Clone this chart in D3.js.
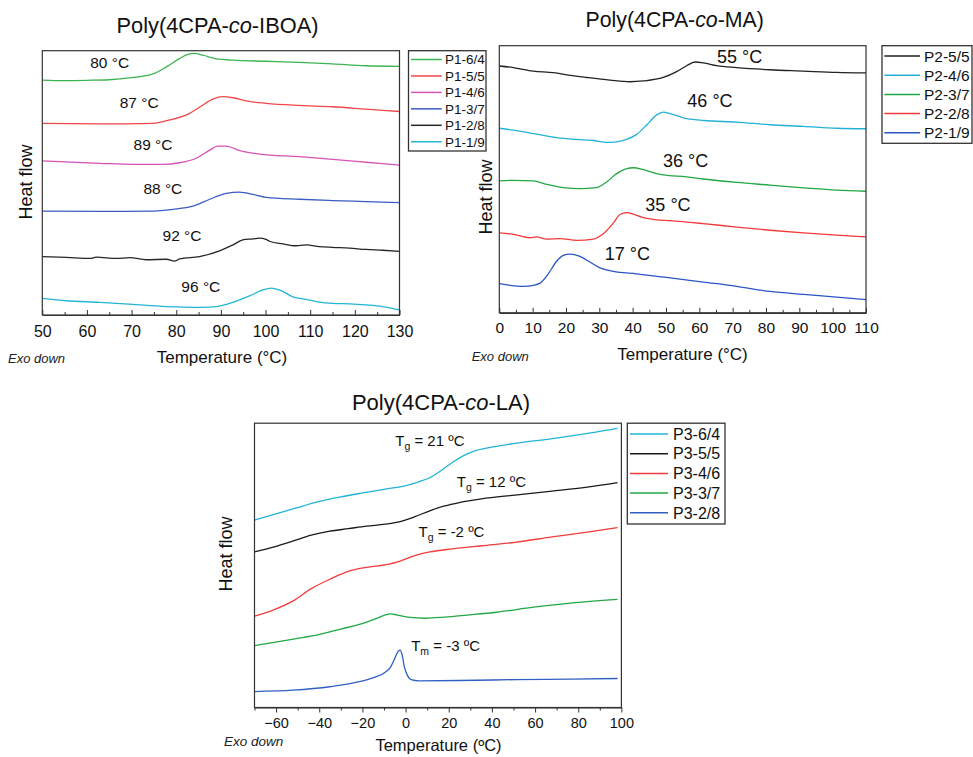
<!DOCTYPE html>
<html>
<head>
<meta charset="utf-8">
<script src="https://cdn.jsdelivr.net/npm/d3@7"></script>
<style>
  html, body { margin: 0; padding: 0; background: #fff; }
  svg { display: block; font-family: "Liberation Sans", Arial, sans-serif; }
</style>
</head>
<body>
<svg id="chart" width="973" height="757"></svg>
<script>
// ---------- Poly(4CPA-co-IBOA) DSC traces: [temperature °C, heat flow (a.u.)] ----------
const ibNames = ["P1-6/4", "P1-5/5", "P1-4/6", "P1-3/7", "P1-2/8", "P1-1/9"];
const ib64 = [[50,8.89],[55,8.87],[60,8.88],[65,8.90],[70,8.98],[74.8,9.12],[77.8,9.39],[80.8,9.71],[82.6,9.86],[84.1,9.90],[86,9.83],[89,9.69],[92.7,9.64],[100,9.60],[107.6,9.56],[115,9.50],[122.5,9.43],[130,9.41]];
const ib55 = [[50,7.25],[62.9,7.23],[74.8,7.25],[78.5,7.38],[82.3,7.57],[85.2,7.86],[88.2,8.17],[90.4,8.26],[92.7,8.22],[95.7,8.10],[100.1,8.01],[107.6,7.93],[115,7.88],[122.5,7.79],[130,7.70]];
const ib46 = [[50,5.83],[62.9,5.74],[70.3,5.70],[77,5.70],[80.8,5.76],[84.5,5.93],[87.5,6.24],[89.3,6.39],[91.2,6.39],[94.2,6.22],[98.6,6.09],[107.6,5.99],[115,5.89],[122.5,5.78],[130,5.67]];
const ib37 = [[50,3.93],[62.9,3.92],[74.1,3.93],[79.3,4.00],[83.7,4.12],[87.5,4.38],[91.2,4.60],[94.2,4.65],[97.2,4.56],[100.1,4.45],[107.6,4.38],[115,4.33],[122.5,4.29],[130,4.25]];
const ib28 = [[50,2.21],[55.4,2.18],[60.7,2.14],[62.1,2.19],[66.6,2.14],[69.6,2.17],[73.3,2.09],[77.8,2.11],[79.6,2.04],[80.8,2.12],[85.2,2.21],[89.7,2.43],[92.7,2.65],[94.9,2.84],[97.2,2.88],[98.6,2.91],[100.1,2.86],[100.9,2.79],[103.9,2.69],[106.8,2.62],[109.1,2.65],[112,2.59],[115,2.56],[118.8,2.53],[122.5,2.48],[126.2,2.45],[130,2.41]];
const ib19 = [[50,0.63],[55.4,0.54],[62.9,0.48],[70.3,0.40],[77.8,0.32],[85.2,0.29],[89,0.32],[92.7,0.48],[96.4,0.72],[99.4,0.95],[101.3,1.02],[103.1,0.95],[106.1,0.69],[109.1,0.59],[112,0.49],[115,0.44],[118.8,0.42],[122.5,0.38],[126.2,0.32],[130,0.19]];
// Tg annotations: [text, temperature, heat flow] (text centred on that point)
const ibLabels = [["80 °C",65.1,9.35],["87 °C",71.7,7.84],["89 °C",74.8,6.24],["88 °C",77.0,4.58],["92 °C",81.3,2.80],["96 °C",85.5,0.88]];
const ibTicks = [50,60,70,80,90,100,110,120,130];

// ---------- Poly(4CPA-co-MA) ----------
const maNames = ["P2-5/5", "P2-4/6", "P2-3/7", "P2-2/8", "P2-1/9"];
const ma55 = [[0,9.24],[4.2,9.18],[10.2,9.05],[16.2,8.99],[21.2,8.89],[26.2,8.81],[33.2,8.71],[39.2,8.65],[43.2,8.68],[49.2,8.81],[53.2,9.03],[56.2,9.25],[58.7,9.39],[61.2,9.36],[65.2,9.25],[71.2,9.18],[81.2,9.10],[91.2,9.05],[101.2,9.00],[110,8.98]];
const ma46 = [[0,6.91],[4.2,6.84],[11.2,6.69],[17.2,6.56],[23.2,6.49],[28.2,6.45],[32.2,6.38],[35.2,6.40],[38.2,6.49],[41.2,6.68],[44.2,7.03],[47.2,7.41],[49.2,7.51],[51.2,7.46],[55.2,7.30],[61.2,7.20],[71.2,7.14],[81.2,7.04],[91.2,6.98],[101.2,6.91],[110,6.89]];
const ma37 = [[0,4.94],[4.2,4.96],[10.2,4.94],[14.2,4.81],[19.2,4.69],[24.2,4.65],[29.2,4.69],[32.2,4.90],[35.2,5.21],[38.2,5.40],[40.2,5.43],[43.2,5.36],[47.2,5.21],[49.2,5.16],[56.2,5.09],[61.2,5.01],[71.2,4.88],[81.2,4.78],[91.2,4.68],[101.2,4.59],[110,4.55]];
const ma28 = [[0,2.99],[4.2,2.94],[9.2,2.81],[11.2,2.84],[14.2,2.76],[18.2,2.78],[23.2,2.71],[28.2,2.76],[31.2,2.96],[34.2,3.36],[36.2,3.68],[38.2,3.75],[40.2,3.69],[43.2,3.56],[47.2,3.48],[51.2,3.45],[61.2,3.34],[71.2,3.21],[81.2,3.09],[91.2,2.99],[101.2,2.91],[110,2.84]];
const ma19 = [[0,1.09],[3.2,1.03],[7.2,0.99],[10.2,1.03],[12.2,1.11],[14.7,1.46],[17.2,1.93],[19.2,2.15],[21.2,2.20],[24.2,2.11],[27.2,1.90],[30.2,1.68],[34.2,1.55],[41.2,1.46],[51.2,1.31],[61.2,1.15],[71.2,0.99],[81.2,0.80],[91.2,0.69],[101.2,0.59],[110,0.49]];
const maLabels = [["55 °C",72.1,9.36],["46 °C",63.2,7.71],["36 °C",55.9,5.46],["35 °C",50.6,3.81],["17 °C",38.4,1.99]];
const maTicks = [0,10,20,30,40,50,60,70,80,90,100,110];

// ---------- Poly(4CPA-co-LA) ----------
const laNames = ["P3-6/4", "P3-5/5", "P3-4/6", "P3-3/7", "P3-2/8"];
const la64 = [[-70,6.59],[-60.9,6.79],[-50.6,7.02],[-40.3,7.24],[-30,7.41],[-19.7,7.55],[-9.4,7.68],[-0.8,7.79],[6.1,7.94],[11.2,8.08],[16.4,8.33],[21.5,8.61],[26.7,8.85],[31.8,9.02],[38.7,9.14],[50.7,9.29],[67.9,9.46],[85,9.65],[98.2,9.82]];
const la55 = [[-70,5.47],[-60.9,5.65],[-52.3,5.85],[-43.7,6.06],[-35.1,6.20],[-26.5,6.29],[-18,6.38],[-9.4,6.45],[-2.5,6.54],[4.3,6.71],[11.2,6.92],[18.1,7.09],[24.9,7.21],[35.2,7.34],[50.7,7.47],[67.9,7.61],[85,7.76],[98.2,7.91]];
const la46 = [[-70,3.21],[-60.9,3.44],[-52.3,3.74],[-43.7,4.18],[-35.1,4.51],[-26.5,4.79],[-19.7,4.91],[-12.8,4.98],[-7.7,5.04],[-2.5,5.15],[4.3,5.34],[11.2,5.47],[21.5,5.58],[35.2,5.69],[50.7,5.81],[67.9,6.00],[85,6.18],[98.2,6.33]];
const la37 = [[-70,2.18],[-60.9,2.29],[-50.6,2.42],[-40.3,2.56],[-30,2.76],[-19.7,2.96],[-12.8,3.15],[-9.4,3.26],[-6.8,3.29],[-4.2,3.26],[0.9,3.18],[9.5,3.14],[18.1,3.18],[28.4,3.25],[42.1,3.35],[59.3,3.53],[76.4,3.67],[98.2,3.80]];
const la28 = [[-70,0.56],[-52.3,0.61],[-35.1,0.73],[-23.1,0.88],[-14.5,1.06],[-9.4,1.24],[-6.8,1.44],[-5.1,1.71],[-3.4,1.98],[-2.5,2.02],[-1.7,1.88],[-0.5,1.41],[0.9,1.12],[2.6,0.98],[6.1,0.94],[24.9,0.95],[50.7,0.98],[76.4,1.00],[98.2,1.02]];
// [symbol, subscript, rest of text, temperature, heat flow] (text starts at that point)
const laLabels = [["T","g"," = 21 ºC",-4.8,9.20],["T","g"," = 12 ºC",23.7,7.76],["T","g"," = -2 ºC",6.0,5.98],["T","m"," = -3 ºC",2.6,1.98]];
const laTicks = [-60,-40,-20,0,20,40,60,80,100];

// ---------- drawing ----------
const svg = d3.select("#chart");

function drawPanel(cfg) {
  const g = svg.append("g");
  const x = d3.scaleLinear().domain(cfg.xDomain).range([cfg.left, cfg.right]);
  const y = d3.scaleLinear().domain([0, 10]).range([cfg.bottom, cfg.top]);
  const line = d3.line().x(d => x(d[0])).y(d => y(d[1])).curve(d3.curveMonotoneX);

  // traces
  cfg.series.forEach((s, i) => {
    g.append("path").attr("d", line(s)).attr("fill", "none")
      .attr("stroke", cfg.colors[i]).attr("stroke-width", 1.3)
      .attr("stroke-linejoin", "round");
  });

  // frame
  g.append("rect").attr("x", cfg.left).attr("y", cfg.top)
    .attr("width", cfg.right - cfg.left).attr("height", cfg.bottom - cfg.top)
    .attr("fill", "none").attr("stroke", "#333").attr("stroke-width", 1.2);

  // bottom axis: major ticks with labels, then minor ticks
  const dir = cfg.ticksIn ? -1 : 1;
  const major = d3.axisBottom(x).tickValues(cfg.ticks).tickSizeInner(5 * dir).tickSizeOuter(0)
    .tickPadding(cfg.tickPad).tickFormat(d3.format("d"));
  const ax = g.append("g").attr("transform", `translate(0,${cfg.bottom})`).call(major);
  ax.select(".domain").attr("stroke", "#333").attr("stroke-width", 1.2);
  ax.selectAll(".tick line").attr("stroke", "#333").attr("stroke-width", 1);
  ax.selectAll(".tick text").attr("font-size", cfg.tickFont).attr("fill", "#111")
    .attr("font-family", "Liberation Sans, Arial, sans-serif");
  const minor = d3.axisBottom(x).tickValues(cfg.minorTicks).tickSizeInner(3 * dir).tickSizeOuter(0).tickFormat("");
  const mx = g.append("g").attr("transform", `translate(0,${cfg.bottom})`).call(minor);
  mx.select(".domain").remove();
  mx.selectAll(".tick line").attr("stroke", "#333").attr("stroke-width", 1);

  // title
  const t = g.append("text").attr("x", cfg.titleX).attr("y", cfg.titleY)
    .attr("text-anchor", "middle").attr("font-size", cfg.titleFont).attr("fill", "#111");
  t.append("tspan").text("Poly(4CPA-");
  t.append("tspan").attr("font-style", "italic").text("co");
  t.append("tspan").text("-" + cfg.comonomer + ")");

  // axis titles
  g.append("text").attr("x", cfg.xTitleX).attr("y", cfg.xTitleY).attr("text-anchor", "middle")
    .attr("font-size", cfg.xTitleFont).attr("fill", "#111").text(cfg.xTitle);
  g.append("text").attr("transform", `translate(${cfg.yTitleX},${cfg.yTitleY}) rotate(-90)`)
    .attr("text-anchor", "middle").attr("font-size", 18).attr("fill", "#111").text("Heat flow");
  g.append("text").attr("x", cfg.exoX).attr("y", cfg.exoY).attr("font-style", "italic")
    .attr("font-size", cfg.exoFont).attr("fill", "#222").text("Exo down");

  // legend
  const lg = cfg.legend;
  g.append("rect").attr("x", lg.x0).attr("y", lg.y0).attr("width", lg.x1 - lg.x0).attr("height", lg.y1 - lg.y0)
    .attr("fill", "#fff").attr("stroke", "#333").attr("stroke-width", 1.3);
  cfg.names.forEach((n, i) => {
    const yy = lg.first + i * lg.step;
    g.append("line").attr("x1", lg.lx0).attr("x2", lg.lx1).attr("y1", yy).attr("y2", yy)
      .attr("stroke", cfg.colors[i]).attr("stroke-width", 1.5);
    g.append("text").attr("x", lg.tx).attr("y", yy).attr("dy", "0.36em")
      .attr("font-size", lg.font).attr("fill", "#111").text(n);
  });

  return { g, x, y };
}

// Panel 1 — IBOA
const p1 = drawPanel({
  left: 42.3, right: 399.5, top: 50.7, bottom: 315,
  xDomain: [50, 130], ticks: ibTicks, minorTicks: d3.range(55, 130, 10),
  ticksIn: true, tickPad: 10.3, tickFont: 16,
  series: [ib64, ib55, ib46, ib37, ib28, ib19], names: ibNames,
  colors: ["#3cb451", "#f0474a", "#d653b6", "#3b5cc2", "#262626", "#22b6d4"],
  comonomer: "IBOA", titleX: 217.5, titleY: 33.3, titleFont: 21.8,
  xTitle: "Temperature (°C)", xTitleX: 222, xTitleY: 363, xTitleFont: 17,
  yTitleX: 32, yTitleY: 182, exoX: 8, exoY: 363, exoFont: 13,
  legend: { x0: 408.5, x1: 486, y0: 50.7, y1: 151, lx0: 411, lx1: 441.7, tx: 445, first: 59.5, step: 16.45, font: 13.5 }
});
p1.g.selectAll(null).data(ibLabels).enter().append("text")
  .attr("x", d => p1.x(d[1])).attr("y", d => p1.y(d[2]))
  .attr("text-anchor", "middle").attr("font-size", 15.5).attr("fill", "#111").text(d => d[0]);

// Panel 2 — MA
const p2 = drawPanel({
  left: 499.3, right: 866, top: 45.7, bottom: 312.8,
  xDomain: [0, 110], ticks: maTicks, minorTicks: d3.range(5, 110, 10),
  ticksIn: true, tickPad: 9.3, tickFont: 15.5,
  series: [ma55, ma46, ma37, ma28, ma19], names: maNames,
  colors: ["#222222", "#22b2d8", "#22a844", "#f23a3a", "#2a55c4"],
  comonomer: "MA", titleX: 674.7, titleY: 27.3, titleFont: 21.3,
  xTitle: "Temperature (°C)", xTitleX: 682.5, xTitleY: 360, xTitleFont: 17,
  yTitleX: 491.7, yTitleY: 197, exoX: 471.7, exoY: 361, exoFont: 13,
  legend: { x0: 882, x1: 972, y0: 45.7, y1: 143.3, lx0: 884.3, lx1: 920, tx: 924, first: 56, step: 19.2, font: 15.5 }
});
p2.g.selectAll(null).data(maLabels).enter().append("text")
  .attr("x", d => p2.x(d[1])).attr("y", d => p2.y(d[2]))
  .attr("text-anchor", "middle").attr("font-size", 18).attr("fill", "#111").text(d => d[0]);

// Panel 3 — LA
const p3 = drawPanel({
  left: 254.5, right: 621.4, top: 423.2, bottom: 707.5,
  xDomain: [-70, 100], ticks: laTicks, minorTicks: d3.range(-70, 100, 20),
  ticksIn: false, tickPad: 5.3, tickFont: 14.5,
  series: [la64, la55, la46, la37, la28], names: laNames,
  colors: ["#22b4d8", "#1a1a1a", "#f23c3c", "#22a844", "#3160c4"],
  comonomer: "LA", titleX: 441, titleY: 410, titleFont: 22,
  xTitle: "Temperature (ºC)", xTitleX: 438.5, xTitleY: 751, xTitleFont: 16.5,
  yTitleX: 231.5, yTitleY: 554, exoX: 224, exoY: 746, exoFont: 13.5,
  legend: { x0: 627.3, x1: 725, y0: 423.2, y1: 524, lx0: 630, lx1: 668, tx: 673, first: 434, step: 19.7, font: 16 }
});
const lab3 = p3.g.selectAll(null).data(laLabels).enter().append("text")
  .attr("x", d => p3.x(d[3])).attr("y", d => p3.y(d[4]))
  .attr("font-size", 15).attr("fill", "#111");
lab3.append("tspan").text(d => d[0]);
lab3.append("tspan").attr("font-size", 10.5).attr("dy", 4).text(d => d[1]);
lab3.append("tspan").attr("dy", -4).text(d => d[2]);
</script>
</body>
</html>
